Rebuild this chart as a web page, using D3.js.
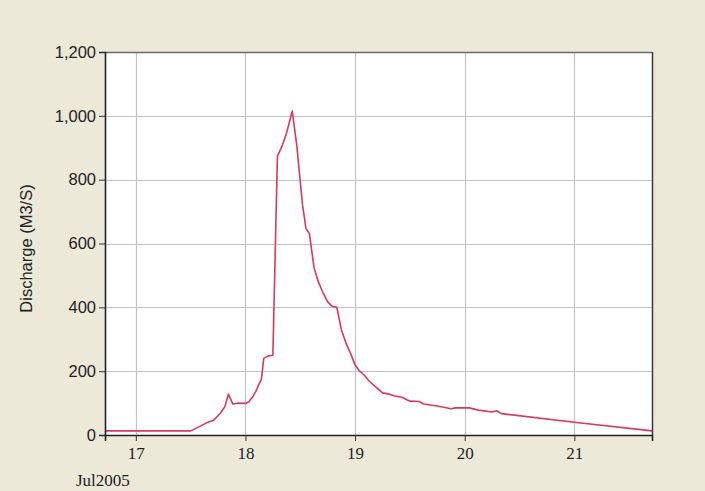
<!DOCTYPE html>
<html>
<head>
<meta charset="utf-8">
<script src="https://cdn.jsdelivr.net/npm/d3@7"></script>
<style>
  html, body { margin: 0; padding: 0; background: #ECE9D8; }
  svg { display: block; }
</style>
</head>
<body>
<svg id="chart" width="705" height="491"></svg>
<script>
// Discharge hydrograph, 16–21 July 2005
const times = [
  "2005-07-16T17:15", "2005-07-17T12:00", "2005-07-17T14:00", "2005-07-17T15:30",
  "2005-07-17T17:00", "2005-07-17T18:30", "2005-07-17T19:30", "2005-07-17T20:15",
  "2005-07-17T21:15", "2005-07-17T22:30", "2005-07-18T00:00", "2005-07-18T00:45",
  "2005-07-18T01:30", "2005-07-18T02:15", "2005-07-18T03:00", "2005-07-18T03:30",
  "2005-07-18T04:00", "2005-07-18T05:00", "2005-07-18T06:00", "2005-07-18T07:00",
  "2005-07-18T08:00", "2005-07-18T09:00", "2005-07-18T10:15", "2005-07-18T11:15",
  "2005-07-18T12:30", "2005-07-18T13:15", "2005-07-18T14:00", "2005-07-18T15:00",
  "2005-07-18T16:00", "2005-07-18T17:00", "2005-07-18T18:00", "2005-07-18T19:00",
  "2005-07-18T20:00", "2005-07-18T21:00", "2005-07-18T22:00", "2005-07-18T23:00",
  "2005-07-19T00:00", "2005-07-19T01:00", "2005-07-19T02:00", "2005-07-19T03:00",
  "2005-07-19T04:30", "2005-07-19T06:00", "2005-07-19T07:30", "2005-07-19T08:30",
  "2005-07-19T10:15", "2005-07-19T12:00", "2005-07-19T14:00", "2005-07-19T15:00",
  "2005-07-19T18:00", "2005-07-19T21:00", "2005-07-19T22:00", "2005-07-20T01:00",
  "2005-07-20T03:00", "2005-07-20T06:00", "2005-07-20T07:00", "2005-07-20T08:00",
  "2005-07-21T00:00", "2005-07-21T17:00"
];
const discharge = [
  13, 13, 27, 38,
  46, 68, 89, 128,
  97, 100, 99, 104,
  118, 136, 160, 175,
  240, 248, 250, 874,
  905, 946, 1015, 905,
  720, 647, 631, 525,
  478, 445, 417, 403,
  400, 330, 288, 256,
  219, 200, 188, 170,
  151, 132, 128, 123,
  118, 106, 105, 97,
  91, 82, 85, 85,
  78, 72, 76, 67,
  40, 13
];
const yTicks = [0, 200, 400, 600, 800, 1000, 1200];
const xStart = "2005-07-16T17:15";
const xEnd = "2005-07-21T17:00";
const yLabel = "Discharge (M3/S)";
const dateLabel = "Jul2005";

const parse = d3.timeParse("%Y-%m-%dT%H:%M");
const data = times.map((t, i) => ({ t: parse(t), v: discharge[i] }));

const svg = d3.select("#chart");
const W = 705, H = 491;
const m = { left: 105, right: W - 652, top: 52, bottom: H - 435 };
const pw = W - m.left - m.right, ph = H - m.top - m.bottom;

svg.append("rect").attr("width", W).attr("height", H).attr("fill", "#ECE9D8");

const x = d3.scaleTime().domain([parse(xStart), parse(xEnd)]).range([m.left, m.left + pw]);
const y = d3.scaleLinear().domain([0, 1200]).range([m.top + ph, m.top]);

// plot area
svg.append("rect")
  .attr("x", m.left).attr("y", m.top).attr("width", pw).attr("height", ph)
  .attr("fill", "#ffffff");

const dayTicks = x.ticks(d3.timeDay.every(1));

// grid
const grid = svg.append("g").attr("stroke", "#c4c4c4").attr("stroke-width", 1.2);
grid.selectAll("line.h").data(yTicks.slice(1, -1)).join("line")
  .attr("x1", m.left).attr("x2", m.left + pw)
  .attr("y1", d => Math.round(y(d)) + 0.5).attr("y2", d => Math.round(y(d)) + 0.5);
grid.selectAll("line.v").data(dayTicks).join("line")
  .attr("x1", d => Math.round(x(d)) + 0.5).attr("x2", d => Math.round(x(d)) + 0.5)
  .attr("y1", m.top).attr("y2", m.top + ph);

// discharge line
const line = d3.line().x(d => x(d.t)).y(d => y(d.v));
svg.append("path").datum(data)
  .attr("fill", "none")
  .attr("stroke", "#d63a5e")
  .attr("stroke-width", 1.6)
  .attr("stroke-linejoin", "round")
  .attr("d", line);

// frame: top and right borders
svg.append("line").attr("x1", m.left).attr("x2", m.left + pw)
  .attr("y1", m.top + 0.5).attr("y2", m.top + 0.5)
  .attr("stroke", "#6a6a6a").attr("stroke-width", 1.5);
svg.append("line").attr("x1", m.left + pw + 0.5).attr("x2", m.left + pw + 0.5)
  .attr("y1", m.top).attr("y2", m.top + ph)
  .attr("stroke", "#3a3a3a").attr("stroke-width", 1.5);

// y axis
const yAxis = svg.append("g")
  .attr("transform", `translate(${m.left},0)`)
  .call(d3.axisLeft(y).tickValues(yTicks).tickFormat(d3.format(",")).tickSize(6).tickPadding(3));
yAxis.selectAll("text")
  .attr("font-family", "'Liberation Sans', Arial, sans-serif")
  .attr("font-size", 16.5).attr("fill", "#222");
yAxis.selectAll("line").attr("stroke", "#333");
yAxis.select(".domain").attr("stroke", "#222").attr("stroke-width", 1.6);

// x axis
const xAxis = svg.append("g")
  .attr("transform", `translate(0,${m.top + ph})`)
  .call(d3.axisBottom(x).tickValues(dayTicks).tickFormat(d3.timeFormat("%-d")).tickSize(6).tickPadding(6));
xAxis.selectAll("text")
  .attr("font-family", "'Liberation Serif', 'Times New Roman', serif")
  .attr("font-size", 17).attr("fill", "#222");
xAxis.selectAll("line").attr("stroke", "#333");
xAxis.select(".domain").attr("stroke", "#222").attr("stroke-width", 1.6);

// month/year label under the axis
svg.append("text")
  .attr("x", 76).attr("y", 486)
  .attr("font-family", "'Liberation Serif', 'Times New Roman', serif")
  .attr("font-size", 17).attr("fill", "#222")
  .text(dateLabel);

// y axis title
svg.append("text")
  .attr("transform", `translate(32,${m.top + ph / 2 + 5}) rotate(-90)`)
  .attr("text-anchor", "middle")
  .attr("font-family", "'Liberation Sans', Arial, sans-serif")
  .attr("font-size", 16.5).attr("fill", "#222")
  .text(yLabel);
</script>
</body>
</html>
